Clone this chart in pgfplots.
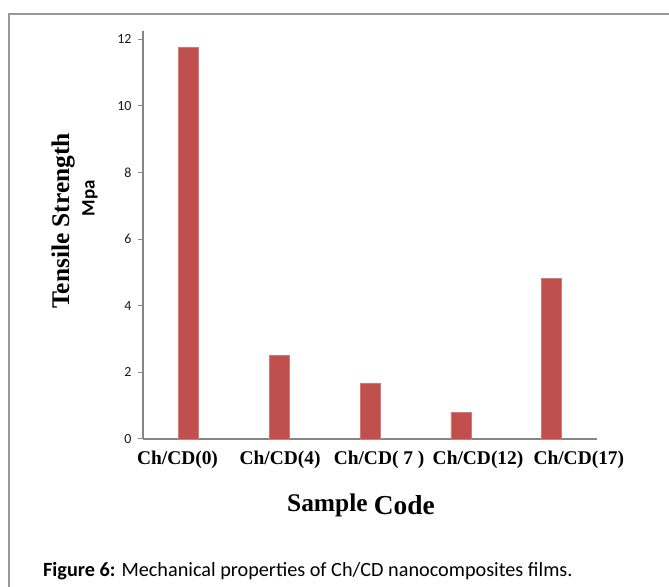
\documentclass[border=0pt]{standalone}
\usepackage{pgfplots}
\pgfplotsset{compat=1.18}
\usepackage{fontspec}
\setmainfont{Liberation Serif}
\newfontfamily\carlito{Carlito}
\definecolor{barred}{HTML}{C0504D}
\definecolor{axgray}{HTML}{868686}
\begin{document}
\begin{tikzpicture}
\path[use as bounding box] (0,0) rectangle (669bp,587bp);
% outer frame (left and top visible)
\draw[gray!80, line width=1.2bp] (9bp,0) -- (9bp,573bp) -- (669bp,573bp);
\begin{axis}[
    at={(143bp,148bp)}, anchor=south west,
    scale only axis,
    width=454bp, height=408.3bp,
    xmin=-0.5, xmax=4.5,
    ymin=0, ymax=12.25,
    axis lines*=left,
    axis line style={axgray, line width=1.2bp},
    tick style={axgray, line width=1bp},
    tick align=outside,
    major tick length=5bp,
    ytick={0,2,...,12},
    % labels sit a little right of the bars, as in the original
    xtick={-0.12,1.01,2.1,3.19,4.3},
    xticklabels={Ch/CD(0), Ch/CD(4), Ch/CD( 7 ), Ch/CD(12), Ch/CD(17)},
    x tick style={draw=none},
    extra x ticks={-0.5,0.5,1.5,2.5,3.5,4.5},
    extra x tick labels={},
    extra x tick style={tick style={axgray, line width=1bp}, major tick length=5bp},
    /pgf/number format/assume math mode=true,
    yticklabel style={font=\carlito\fontsize{14}{14}\selectfont, text=black!90, xshift=-3bp},
    xticklabel style={font=\bfseries\fontsize{19.5}{19.5}\selectfont, yshift=-4bp},
    clip=false,
]
\addplot[ybar, bar width=20bp, fill=barred, draw={rgb,255:red,214;green,120;blue,118}, line width=0.6bp]
    coordinates {(0,11.75) (1,2.52) (2,1.67) (3,0.79) (4,4.83)};
\end{axis}
% axis titles
\node[rotate=90, font=\bfseries\fontsize{25.5}{25.5}\selectfont] at (63bp,366bp) {Tensile Strength};
\node[rotate=90, font=\carlito\bfseries\fontsize{19}{19}\selectfont] at (90bp,389bp) {Mpa};
\node[anchor=base, font=\bfseries] at (361bp,75bp)
    {\fontsize{25.5}{25.5}\selectfont Sample \fontsize{27.5}{27.5}\selectfont\raisebox{-3bp}{Code}};
% caption
\node[anchor=base west, inner sep=0pt, font=\carlito\fontsize{20.3}{20.3}\selectfont] at (43bp,11bp)
    {\textbf{Figure 6:} Mechanical properties of Ch/CD nanocomposites films.};
\end{tikzpicture}
\end{document}
